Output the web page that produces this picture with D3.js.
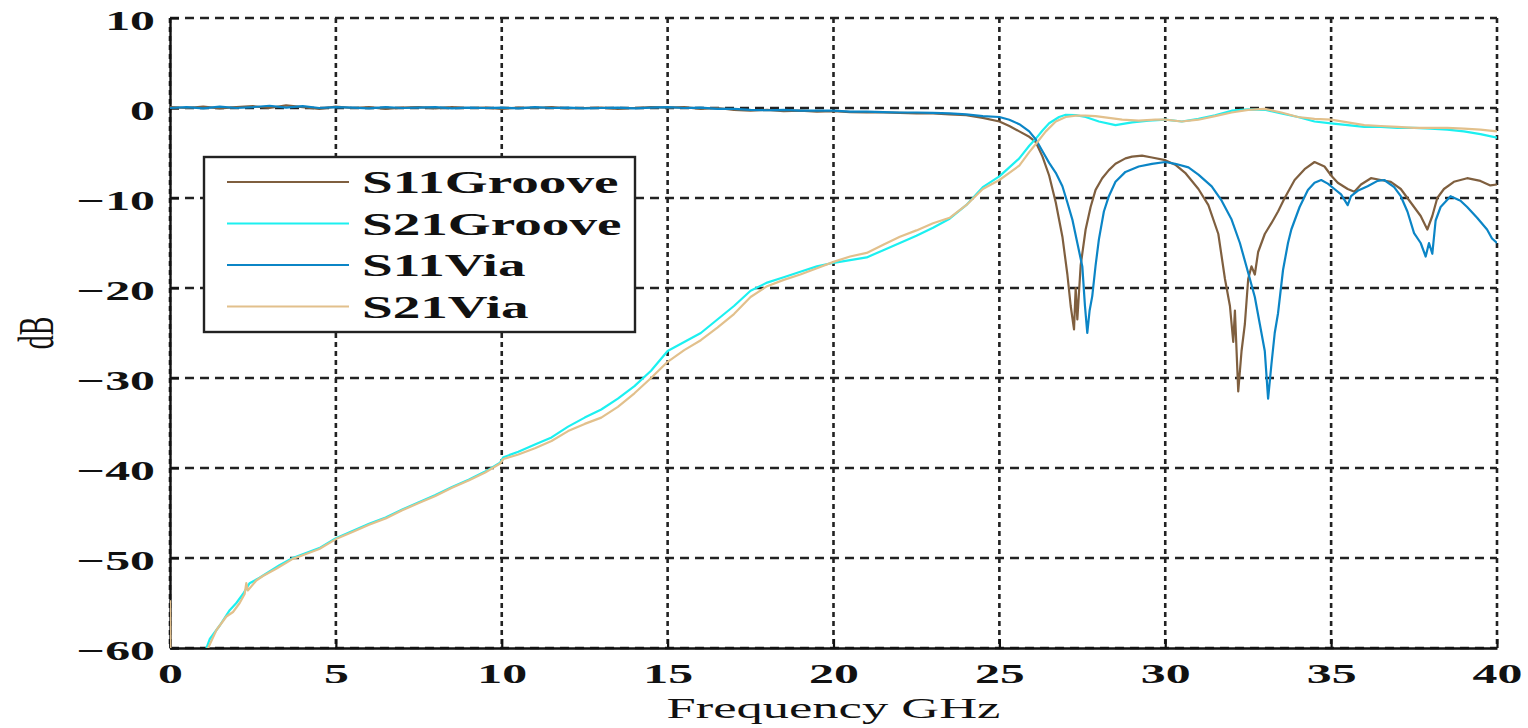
<!DOCTYPE html>
<html>
<head>
<meta charset="utf-8">
<script src="https://cdn.jsdelivr.net/npm/d3@7"></script>
<style>
  body { margin: 0; background: #fff; }
  svg { display: block; }
  text { font-family: 'Liberation Serif', 'DejaVu Serif', serif; fill: #111; }
</style>
</head>
<body>
<div id="chart"></div>
<script>
const xTicks = [0, 5, 10, 15, 20, 25, 30, 35, 40];
const yTicks = [10, 0, -10, -20, -30, -40, -50, -60];
const seriesNames = ['S11Groove', 'S21Groove', 'S11Via', 'S21Via'];
const seriesColors = ['#7f5f3f', '#1cf0f0', '#0b85c6', '#e2c08c'];

// [GHz, dB]
const s11Groove = [
  [0, 0.1], [0.5, 0.0], [1, 0.15], [1.5, -0.05], [2, 0.1], [2.5, 0.2], [3, 0.0], [3.5, 0.3], [4, 0.1],
  [4.5, -0.1], [5, 0.15], [5.5, 0.0], [6, 0.1], [6.5, -0.1], [7, 0.05], [7.5, 0.1], [8, -0.05], [8.5, 0.1],
  [9, 0.0], [9.5, 0.05], [10, -0.1], [10.5, 0.05], [11, 0.0], [11.5, 0.1], [12, -0.05], [12.5, 0.0],
  [13, 0.05], [13.5, -0.1], [14, 0.0], [14.5, 0.1], [15, 0.05], [15.5, 0.1], [16, -0.1], [16.5, 0.0],
  [17, -0.2], [17.5, -0.3], [18, -0.2], [18.5, -0.35], [19, -0.3], [19.5, -0.4], [20, -0.35], [20.5, -0.45],
  [21, -0.5], [21.5, -0.5], [22, -0.55], [22.5, -0.6], [23, -0.6], [23.5, -0.7], [24, -0.8], [24.5, -1.1],
  [25, -1.5], [25.3, -2.0], [25.6, -2.6], [25.9, -3.2], [26.1, -3.8], [26.3, -5.4], [26.5, -7.5],
  [26.7, -10.5], [26.9, -14.3], [27.05, -18.5], [27.15, -22], [27.25, -24.6], [27.3, -20], [27.35, -23.5],
  [27.45, -17.5], [27.6, -13.5], [27.75, -11], [27.9, -9.1], [28.1, -7.8], [28.3, -6.9], [28.5, -6.2],
  [28.8, -5.6], [29.0, -5.4], [29.3, -5.3], [29.6, -5.5], [30.0, -5.8], [30.3, -6.3], [30.6, -7.2],
  [31.0, -9.0], [31.3, -10.8], [31.6, -14], [31.8, -19], [31.95, -22], [32.05, -26], [32.1, -22.5],
  [32.2, -31.5], [32.3, -27], [32.4, -24], [32.5, -19], [32.6, -17.6], [32.7, -18.5], [32.8, -16],
  [33.0, -14], [33.2, -12.8], [33.4, -11.5], [33.6, -10], [33.9, -8], [34.2, -6.8], [34.5, -6],
  [34.8, -6.5], [35.0, -7.5], [35.2, -8.3], [35.5, -9], [35.7, -9.3], [35.9, -8.5], [36.2, -7.8],
  [36.5, -8], [36.8, -8.2], [37.1, -9], [37.4, -10.5], [37.7, -12], [37.9, -13.5], [38.05, -12],
  [38.2, -10], [38.4, -9], [38.7, -8.2], [39.1, -7.8], [39.5, -8.1], [39.8, -8.6], [40, -8.5]
];

const s21Groove = [
  [1.05, -60.5], [1.2, -59], [1.5, -57.5], [1.8, -55.8], [2.0, -55.0], [2.2, -54], [2.4, -52.8],
  [2.7, -52.2], [3.0, -51.5], [3.3, -50.8], [3.7, -50], [4.0, -49.6], [4.5, -48.9], [5.0, -47.8],
  [5.5, -47.0], [6.0, -46.2], [6.5, -45.5], [7.0, -44.6], [7.5, -43.8], [8.0, -43.0], [8.5, -42.1],
  [9.0, -41.3], [9.5, -40.4], [9.95, -39.4], [10.05, -38.8], [10.5, -38.2], [11.0, -37.4], [11.5, -36.6],
  [12.0, -35.4], [12.5, -34.4], [13.0, -33.5], [13.5, -32.3], [14.0, -30.9], [14.5, -29.2], [15.0, -27.0],
  [15.5, -26.0], [16.0, -25.0], [16.5, -23.5], [17.0, -22.0], [17.5, -20.3], [18.0, -19.4], [18.5, -18.8],
  [19.0, -18.2], [19.5, -17.6], [20.0, -17.2], [20.5, -16.9], [21.0, -16.6], [21.5, -15.8], [22.0, -15.0],
  [22.5, -14.2], [23.0, -13.3], [23.5, -12.3], [24.0, -10.8], [24.5, -8.8], [25.0, -7.6], [25.3, -6.6],
  [25.6, -5.6], [25.9, -4.2], [26.1, -3.4], [26.3, -2.5], [26.5, -1.7], [26.8, -1.0], [27.0, -0.75],
  [27.3, -0.8], [27.6, -1.0], [28.0, -1.5], [28.5, -1.9], [29.0, -1.6], [29.5, -1.4], [30.0, -1.3],
  [30.5, -1.5], [31.0, -1.2], [31.5, -0.8], [32.0, -0.3], [32.5, -0.15], [33.0, -0.2], [33.5, -0.6],
  [34.0, -1.0], [34.5, -1.5], [35.0, -1.7], [35.5, -1.9], [36.0, -2.1], [36.5, -2.1], [37.0, -2.2],
  [37.5, -2.2], [38.0, -2.3], [38.5, -2.4], [39.0, -2.6], [39.5, -2.9], [40.0, -3.3]
];

const s11Via = [
  [0, 0.0], [0.5, 0.1], [1, -0.05], [1.5, 0.15], [2, 0.0], [2.5, 0.1], [3, 0.25], [3.5, 0.05], [4, 0.2],
  [4.5, 0.0], [5, 0.1], [5.5, 0.05], [6, -0.05], [6.5, 0.1], [7, 0.0], [7.5, 0.05], [8, 0.1], [8.5, -0.05],
  [9, 0.05], [9.5, 0.0], [10, 0.05], [10.5, -0.05], [11, 0.1], [11.5, 0.0], [12, 0.05], [12.5, -0.05],
  [13, 0.0], [13.5, 0.05], [14, -0.05], [14.5, 0.05], [15, 0.1], [15.5, 0.0], [16, 0.05], [16.5, -0.1],
  [17, -0.1], [17.5, -0.2], [18, -0.25], [18.5, -0.2], [19, -0.3], [19.5, -0.3], [20, -0.3], [20.5, -0.4],
  [21, -0.4], [21.5, -0.45], [22, -0.5], [22.5, -0.5], [23, -0.55], [23.5, -0.6], [24, -0.7], [24.5, -0.9],
  [25, -1.0], [25.3, -1.3], [25.6, -1.8], [25.9, -2.6], [26.1, -3.5], [26.3, -4.8], [26.5, -6.1],
  [26.7, -7.2], [26.9, -8.7], [27.05, -10.5], [27.2, -12.4], [27.35, -15], [27.5, -17.6], [27.58, -22],
  [27.65, -25], [27.72, -22.5], [27.8, -20.9], [27.9, -17.5], [28.0, -14.6], [28.15, -11.5], [28.3, -9.8],
  [28.5, -8.2], [28.8, -7.1], [29.2, -6.5], [29.6, -6.2], [30.0, -6.0], [30.3, -6.2], [30.7, -6.6],
  [31.0, -7.4], [31.4, -8.7], [31.7, -10.3], [32.0, -12.4], [32.25, -15], [32.5, -18.3], [32.7, -21],
  [32.85, -24], [33.0, -27], [33.1, -32.3], [33.2, -28.5], [33.3, -25], [33.4, -22.8], [33.55, -18],
  [33.7, -15], [33.8, -13.5], [34.05, -11], [34.3, -9.1], [34.5, -8.3], [34.7, -8], [34.9, -8.4],
  [35.1, -9], [35.3, -9.6], [35.5, -10.8], [35.6, -9.8], [35.8, -9.2], [36.1, -8.7], [36.4, -8.1],
  [36.6, -8], [36.9, -8.8], [37.1, -9.8], [37.3, -11.5], [37.5, -13.9], [37.7, -15], [37.85, -16.5],
  [37.95, -15], [38.05, -16.2], [38.15, -12.5], [38.3, -11], [38.6, -9.8], [38.9, -10.3], [39.1, -11],
  [39.4, -12.2], [39.7, -13.5], [39.85, -14.5], [40, -15]
];

const s21Via = [
  [0, -54.7], [0.02, -64], [1.05, -61], [1.15, -60], [1.4, -58], [1.7, -56.5], [1.9, -56], [2.1, -55],
  [2.25, -54], [2.3, -52.8], [2.35, -53.6], [2.6, -52.5], [2.8, -52], [3.2, -51.2], [3.7, -50.1],
  [4.0, -49.7], [4.5, -49], [5.0, -47.9], [5.5, -47.1], [6.0, -46.3], [6.5, -45.6], [7.0, -44.7],
  [7.5, -43.9], [8.0, -43.1], [8.5, -42.2], [9.0, -41.4], [9.5, -40.5], [9.95, -39.5], [10.05, -39.0],
  [10.5, -38.5], [11.0, -37.8], [11.5, -37.0], [12.0, -35.9], [12.5, -35.1], [13.0, -34.4], [13.5, -33.2],
  [14.0, -31.7], [14.5, -30.0], [15.0, -28.2], [15.5, -26.9], [16.0, -25.8], [16.5, -24.4], [17.0, -22.9],
  [17.5, -21.0], [18.0, -19.8], [18.5, -19.1], [19.0, -18.5], [19.5, -17.8], [20.0, -17.1], [20.5, -16.5],
  [21.0, -16.1], [21.5, -15.2], [22.0, -14.3], [22.5, -13.6], [23.0, -12.8], [23.5, -12.2], [24.0, -10.8],
  [24.5, -9.0], [25.0, -8.0], [25.3, -7.2], [25.6, -6.4], [25.9, -4.9], [26.1, -4.0], [26.4, -2.6],
  [26.7, -1.5], [27.0, -1.0], [27.3, -0.85], [27.6, -0.85], [27.9, -0.9], [28.3, -1.1], [28.7, -1.3],
  [29.2, -1.4], [29.7, -1.3], [30.0, -1.3], [30.5, -1.5], [31.0, -1.3], [31.5, -0.9], [32.0, -0.5],
  [32.5, -0.2], [33.0, -0.1], [33.5, -0.5], [34.0, -1.0], [34.5, -1.2], [35.0, -1.3], [35.5, -1.6],
  [36.0, -1.9], [36.5, -2.0], [37.0, -2.1], [37.5, -2.2], [38.0, -2.2], [38.5, -2.2], [39.0, -2.3],
  [39.5, -2.4], [40.0, -2.6]
];

const allSeries = [s11Groove, s21Groove, s11Via, s21Via];

const W = 1528, H = 728;
const margin = { top: 18, right: 31, bottom: 80, left: 170 };
const innerW = W - margin.left - margin.right;
const innerH = H - margin.top - margin.bottom;
const stretch = 1.78; // the original figure is stretched horizontally

const svg = d3.select('#chart').append('svg')
  .attr('width', W)
  .attr('height', H);

const x = d3.scaleLinear().domain([0, 40]).range([0, innerW]);
const y = d3.scaleLinear().domain([-60, 10]).range([innerH, 0]);

const g = svg.append('g')
  .attr('transform', 'translate(' + margin.left + ',' + margin.top + ')');

svg.append('clipPath').attr('id', 'plotClip')
  .append('rect')
  .attr('x', 0).attr('y', 0)
  .attr('width', innerW).attr('height', innerH);

/* ---------- grid ---------- */
g.selectAll('.hgrid').data(yTicks).enter().append('line')
  .attr('class', 'hgrid')
  .attr('x1', 0).attr('x2', innerW)
  .attr('y1', d => y(d)).attr('y2', d => y(d))
  .attr('stroke', '#222').attr('stroke-width', 2.4)
  .attr('stroke-dasharray', '9,6');

g.selectAll('.vgrid').data(xTicks).enter().append('line')
  .attr('class', 'vgrid')
  .attr('x1', d => x(d)).attr('x2', d => x(d))
  .attr('y1', 0).attr('y2', innerH)
  .attr('stroke', '#222').attr('stroke-width', 2.6)
  .attr('stroke-dasharray', '5,4');

/* ---------- axes ---------- */
const xAxis = g.append('g')
  .attr('transform', 'translate(0,' + innerH + ')')
  .call(d3.axisBottom(x).tickValues(xTicks).tickSize(-9).tickSizeOuter(0).tickPadding(0).tickFormat(d3.format('d')));

const yAxis = g.append('g')
  .call(d3.axisLeft(y).tickValues(yTicks).tickSize(-9).tickSizeOuter(0).tickPadding(0).tickFormat(d => d < 0 ? '\u2212' + Math.abs(d) : d));

[xAxis, yAxis].forEach(a => {
  a.select('.domain').attr('stroke', '#111').attr('stroke-width', 2.4);
  a.selectAll('.tick line').attr('stroke', '#111').attr('stroke-width', 2.2);
  a.selectAll('text')
    .attr('fill', '#111')
    .style('font-family', "'Liberation Serif', serif")
    .style('font-weight', 'bold')
    .style('font-size', '28px');
});

xAxis.selectAll('.tick text')
  .attr('y', null).attr('dy', null)
  .attr('transform', 'translate(0,35) scale(' + stretch + ',1)');

yAxis.selectAll('.tick text')
  .attr('x', null).attr('dy', null)
  .attr('text-anchor', 'end')
  .attr('dominant-baseline', 'central')
  .attr('transform', 'translate(-15,2) scale(' + stretch + ',1)');

/* ---------- axis titles ---------- */
svg.append('text')
  .attr('text-anchor', 'middle')
  .attr('transform', 'translate(' + (margin.left + x(20)) + ',718) scale(' + stretch + ',1)')
  .style('font-size', '29.5px')
  .text('Frequency GHz');

svg.append('text')
  .attr('text-anchor', 'middle')
  .attr('transform', 'translate(53,' + (margin.top + y(-25)) + ') scale(' + stretch + ',1) rotate(-90)')
  .style('font-size', '28px')
  .text('dB');

/* ---------- lines ---------- */
const line = d3.line()
  .x(d => x(d[0]))
  .y(d => y(d[1]));

const lineG = g.append('g').attr('clip-path', 'url(#plotClip)');
lineG.selectAll('.series').data(allSeries).enter().append('path')
  .attr('class', 'series')
  .attr('d', line)
  .attr('fill', 'none')
  .attr('stroke', (d, i) => seriesColors[i])
  .attr('stroke-width', 2.2)
  .attr('stroke-linejoin', 'round');

/* ---------- legend ---------- */
const legend = svg.append('g').attr('transform', 'translate(204,157)');
legend.append('rect')
  .attr('width', 431).attr('height', 175)
  .attr('fill', '#fff').attr('stroke', '#222').attr('stroke-width', 2.4);

const item = legend.selectAll('.item').data(seriesNames).enter().append('g')
  .attr('class', 'item')
  .attr('transform', (d, i) => 'translate(0,' + (25 + i * 41.5) + ')');

item.append('line')
  .attr('x1', 23).attr('x2', 145)
  .attr('stroke', (d, i) => seriesColors[i])
  .attr('stroke-width', 2.2);

item.append('text')
  .attr('transform', 'translate(158,11) scale(' + stretch + ',1)')
  .style('font-size', '31px')
  .style('font-weight', 'bold')
  .text(d => d);
</script>
</body>
</html>
